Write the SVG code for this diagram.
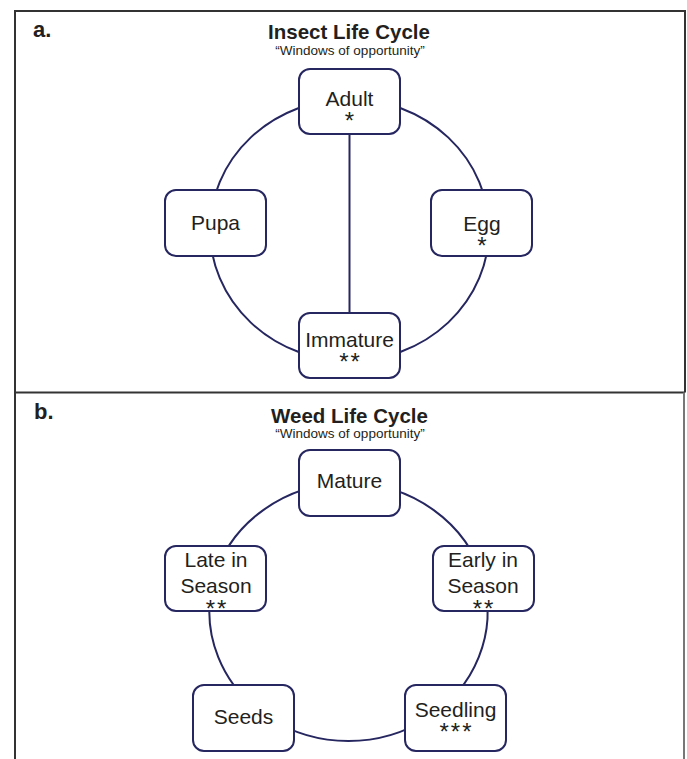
<svg xmlns="http://www.w3.org/2000/svg" width="687" height="759" viewBox="0 0 687 759">
<style>
.frame{stroke:#333;stroke-width:2;fill:none}
.conn{stroke:#262660;stroke-width:2;fill:none}
.box{fill:#fff;stroke:#262660;stroke-width:2}
.lbl{font-family:"Liberation Sans",Arial,sans-serif;font-size:21px;fill:#231f20;text-anchor:middle}
.ttl{font-family:"Liberation Sans",Arial,sans-serif;font-size:20.5px;font-weight:bold;fill:#231f20;text-anchor:middle}
.sub{font-family:"Liberation Sans",Arial,sans-serif;font-size:13.5px;fill:#231f20;text-anchor:middle}
.pan{font-family:"Liberation Sans",Arial,sans-serif;font-size:22px;font-weight:bold;fill:#231f20}
.ast{font-size:24px;letter-spacing:2px}
</style>
<rect width="687" height="759" fill="#fff"/>
<g id="frame">
<path class="frame" d="M15,759 V11 H685 V392.5 M15,392.5 H685"/>
<path d="M684,392.5 V759" stroke="#777" stroke-width="2" fill="none"/>
</g>
<g id="headings">
<text class="pan" x="33" y="37">a.</text>
<text class="ttl" x="349" y="39">Insect Life Cycle</text>
<text class="sub" x="350" y="54.5">“Windows of opportunity”</text>
<text class="pan" x="34" y="419">b.</text>
<text class="ttl" x="349.5" y="422.7">Weed Life Cycle</text>
<text class="sub" x="350" y="437.5">“Windows of opportunity”</text>
</g>
<g id="connectors">
<path class="conn" d="M349.5,99 A139.5,131 0 0 1 489,230"/>
<path class="conn" d="M489,230 A139.5,131 0 0 1 349.5,361"/>
<path class="conn" d="M349.5,361 A139.5,131 0 0 1 210,230"/>
<path class="conn" d="M210,230 A139.5,131 0 0 1 349.5,99"/>
<path class="conn" d="M349.5,134 V314"/>
<path class="conn" d="M348.5,483 A139,129 0 0 1 483.2,580"/>
<path class="conn" d="M483.2,580 A139,129 0 0 1 427.7,718"/>
<path class="conn" d="M427.7,718 A139,129 0 0 1 269.3,718"/>
<path class="conn" d="M269.3,718 A139,129 0 0 1 213.8,580"/>
<path class="conn" d="M213.8,580 A139,129 0 0 1 348.5,483"/>
</g>
<g id="adult">
<rect class="box" x="299" y="69" width="101" height="65" rx="11"/>
<text class="lbl" x="349.5" y="105.5">Adult</text>
<text class="lbl ast" x="350.5" y="129">*</text>
</g>
<g id="egg">
<rect class="box" x="431" y="190" width="101" height="66" rx="11"/>
<text class="lbl" x="482" y="231">Egg</text>
<text class="lbl ast" x="483" y="254">*</text>
</g>
<g id="immature">
<rect class="box" x="299" y="313" width="101" height="65" rx="11"/>
<text class="lbl" x="349.5" y="346.5">Immature</text>
<text class="lbl ast" x="350.5" y="370">**</text>
</g>
<g id="pupa">
<rect class="box" x="165" y="190" width="101" height="66" rx="11"/>
<text class="lbl" x="215.5" y="230">Pupa</text>
</g>
<g id="mature">
<rect class="box" x="299" y="450" width="101" height="66" rx="11"/>
<text class="lbl" x="349.5" y="488">Mature</text>
</g>
<g id="early">
<rect class="box" x="433" y="546" width="101" height="65" rx="11"/>
<text class="lbl" x="483" y="566.7">Early in</text>
<text class="lbl" x="483" y="593">Season</text>
<text class="lbl ast" x="484" y="617">**</text>
</g>
<g id="seedling">
<rect class="box" x="405" y="685" width="101" height="66" rx="11"/>
<text class="lbl" x="455.5" y="716.5">Seedling</text>
<text class="lbl ast" x="456.5" y="740">***</text>
</g>
<g id="seeds">
<rect class="box" x="193" y="685" width="101" height="66" rx="11"/>
<text class="lbl" x="243.5" y="724">Seeds</text>
</g>
<g id="late">
<rect class="box" x="165" y="546" width="101" height="65" rx="11"/>
<text class="lbl" x="216" y="566.7">Late in</text>
<text class="lbl" x="216" y="593">Season</text>
<text class="lbl ast" x="217" y="617">**</text>
</g>
</svg>
